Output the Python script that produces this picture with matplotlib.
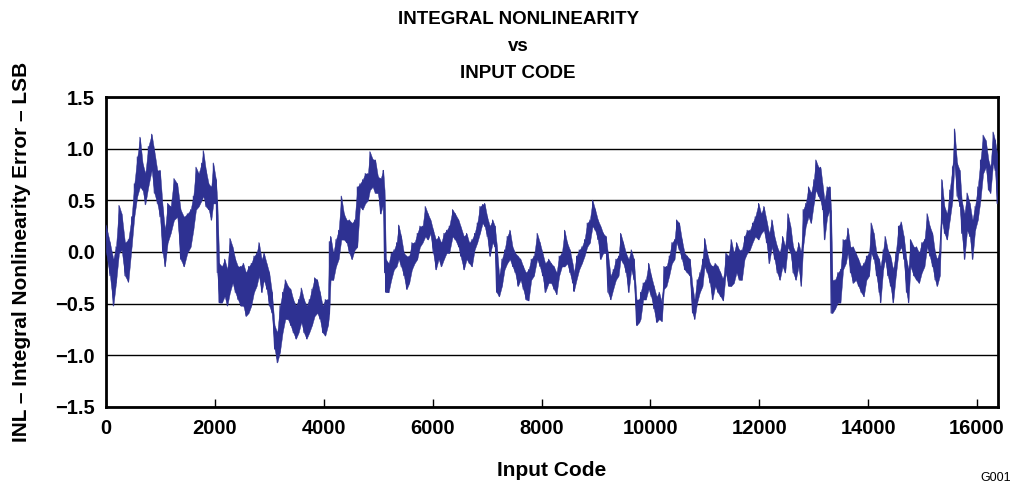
import matplotlib
matplotlib.use("Agg")
import matplotlib.pyplot as plt
import numpy as np

plt.rcParams['font.family'] = ['Liberation Sans', 'DejaVu Sans']
plt.rcParams['font.weight'] = 'bold'

# INL envelope: input code, lowest and highest INL (LSB)
code = [0, 73, 135, 184, 239, 288, 349, 410, 471, 520, 575, 624, 673, 722, 777,
        839, 888, 943, 992, 1041, 1083, 1133, 1188, 1249, 1310, 1371, 1432, 1494,
        1555, 1604, 1653, 1702, 1757, 1787, 1836, 1886, 1934, 1971, 2020, 2044,
        2081, 2130, 2179, 2228, 2277, 2326, 2375, 2424, 2473, 2522, 2571, 2620,
        2669, 2718, 2767, 2810, 2859, 2901, 2951, 2999, 3048, 3097, 3146, 3195,
        3244, 3293, 3342, 3391, 3440, 3489, 3538, 3587, 3636, 3685, 3734, 3783,
        3832, 3881, 3930, 3979, 4028, 4077, 4102, 4126, 4175, 4224, 4273, 4322,
        4371, 4420, 4469, 4517, 4567, 4616, 4664, 4714, 4762, 4811, 4848, 4897,
        4946, 4995, 5044, 5093, 5117, 5142, 5191, 5239, 5289, 5338, 5375, 5422,
        5472, 5522, 5570, 5619, 5668, 5717, 5766, 5815, 5864, 5913, 5962, 6011,
        6060, 6109, 6158, 6207, 6256, 6305, 6366, 6414, 6476, 6513, 6574, 6623,
        6672, 6721, 6770, 6819, 6868, 6917, 6954, 7002, 7051, 7101, 7143, 7174,
        7222, 7272, 7321, 7369, 7419, 7468, 7516, 7566, 7615, 7664, 7713, 7762,
        7811, 7860, 7920, 7970, 8019, 8067, 8130, 8177, 8227, 8276, 8324, 8374,
        8423, 8471, 8521, 8570, 8594, 8643, 8692, 8741, 8790, 8839, 8888, 8937,
        8986, 9035, 9084, 9133, 9182, 9219, 9268, 9317, 9366, 9415, 9452, 9501,
        9550, 9599, 9648, 9697, 9746, 9795, 9819, 9867, 9916, 9966, 10014, 10063,
        10113, 10161, 10210, 10247, 10296, 10345, 10394, 10443, 10480, 10529,
        10578, 10627, 10675, 10724, 10773, 10810, 10858, 10908, 10957, 10994,
        11043, 11092, 11140, 11189, 11238, 11287, 11336, 11385, 11435, 11483,
        11532, 11581, 11630, 11680, 11729, 11777, 11826, 11875, 11924, 11986,
        12034, 12083, 12132, 12181, 12230, 12279, 12328, 12377, 12426, 12475,
        12524, 12573, 12621, 12671, 12720, 12768, 12805, 12853, 12903, 12951,
        13001, 13038, 13087, 13124, 13161, 13197, 13246, 13295, 13319, 13344,
        13392, 13442, 13491, 13539, 13589, 13625, 13674, 13723, 13772, 13821,
        13870, 13919, 13968, 14017, 14054, 14103, 14152, 14201, 14226, 14275,
        14311, 14360, 14409, 14458, 14507, 14556, 14605, 14654, 14703, 14740,
        14776, 14837, 14886, 14935, 14984, 15034, 15082, 15131, 15180, 15229,
        15266, 15315, 15351, 15401, 15449, 15498, 15548, 15584, 15633, 15682,
        15718, 15768, 15816, 15866, 15915, 15963, 16013, 16062, 16111, 16160,
        16209, 16246, 16294, 16331, 16368]

inl_min = [0.0, -0.23, -0.52, -0.30, -0.01, 0.02, -0.23, -0.29, 0.05, 0.34, 0.54,
           0.63, 0.60, 0.46, 0.63, 0.79, 0.57, 0.47, 0.34, -0.01, -0.14, 0.09,
           0.18, 0.31, 0.34, -0.07, -0.14, -0.01, 0.05, 0.21, 0.41, 0.44, 0.50,
           0.54, 0.44, 0.41, 0.31, 0.47, 0.47, -0.20, -0.49, -0.49, -0.43, -0.52,
           -0.39, -0.30, -0.39, -0.46, -0.52, -0.52, -0.62, -0.59, -0.52, -0.39,
           -0.33, -0.23, -0.39, -0.27, -0.36, -0.52, -0.59, -0.94, -1.07, -0.97,
           -0.78, -0.65, -0.65, -0.71, -0.78, -0.84, -0.78, -0.68, -0.78, -0.84,
           -0.78, -0.71, -0.62, -0.59, -0.65, -0.78, -0.81, -0.71, -0.60, -0.27,
           -0.27, -0.14, -0.07, 0.12, 0.12, 0.09, -0.01, -0.07, 0.02, 0.05, 0.44,
           0.41, 0.47, 0.50, 0.60, 0.63, 0.57, 0.57, 0.37, 0.47, -0.20, -0.39,
           -0.39, -0.27, -0.17, -0.14, -0.07, -0.14, -0.23, -0.36, -0.30, -0.17,
           -0.11, -0.07, 0.05, 0.09, 0.15, 0.12, 0.18, -0.01, -0.17, -0.07, -0.14,
           -0.07, -0.01, -0.01, 0.15, 0.12, 0.05, -0.04, -0.17, -0.07, -0.11,
           -0.14, 0.02, 0.09, 0.18, 0.28, 0.25, 0.15, -0.04, 0.09, 0.05, -0.39,
           -0.43, -0.33, -0.17, -0.11, -0.07, -0.14, -0.20, -0.33, -0.27, -0.36,
           -0.46, -0.47, -0.27, -0.23, -0.07, -0.14, -0.23, -0.39, -0.30, -0.30,
           -0.36, -0.41, -0.23, -0.14, -0.14, -0.11, -0.20, -0.30, -0.38, -0.27,
           -0.17, -0.11, -0.04, 0.05, 0.09, 0.25, 0.21, 0.12, -0.07, -0.01, -0.01,
           -0.39, -0.46, -0.36, -0.27, -0.23, -0.07, -0.11, -0.20, -0.39, -0.17,
           -0.27, -0.71, -0.68, -0.65, -0.46, -0.46, -0.36, -0.43, -0.55, -0.68,
           -0.65, -0.67, -0.36, -0.33, -0.23, -0.11, -0.07, 0.09, 0.02, -0.07,
           -0.17, -0.20, -0.23, -0.59, -0.65, -0.49, -0.39, -0.33, -0.14, -0.20,
           -0.30, -0.46, -0.33, -0.39, -0.43, -0.47, -0.20, -0.33, -0.33, -0.30,
           -0.20, -0.27, -0.27, -0.07, -0.01, 0.02, 0.09, 0.15, 0.12, 0.18, 0.21,
           0.09, -0.11, 0.05, -0.07, -0.20, -0.27, -0.14, -0.20, 0.05, -0.01,
           -0.20, -0.27, -0.14, -0.33, 0.05, 0.25, 0.34, 0.28, 0.47, 0.60, 0.54,
           0.50, 0.41, 0.12, 0.34, 0.41, -0.59, -0.59, -0.55, -0.49, -0.49, -0.17,
           -0.11, -0.01, -0.20, -0.30, -0.27, -0.33, -0.39, -0.43, -0.27, -0.23,
           -0.01, -0.07, -0.23, -0.39, -0.49, -0.17, -0.07, -0.23, -0.33, -0.49,
           -0.23, -0.01, 0.05, -0.07, -0.39, -0.49, -0.14, -0.23, -0.27, -0.30,
           -0.20, -0.14, 0.05, -0.04, -0.14, -0.27, -0.33, -0.23, 0.31, 0.18,
           0.12, 0.31, 0.50, 0.86, 0.54, 0.44, 0.18, -0.07, 0.21, 0.15, -0.07,
           0.21, 0.31, 0.50, 0.76, 0.82, 0.60, 0.57, 0.86, 0.79, 0.47]

inl_max = [0.26, 0.09, -0.07, 0.05, 0.45, 0.37, 0.09, 0.12, 0.34, 0.66, 0.92,
           1.11, 0.86, 0.76, 1.02, 1.14, 0.98, 0.79, 0.79, 0.44, 0.21, 0.47, 0.44,
           0.71, 0.66, 0.41, 0.34, 0.37, 0.41, 0.54, 0.82, 0.76, 0.86, 0.98, 0.79,
           0.66, 0.63, 0.86, 0.70, 0.50, -0.11, -0.14, -0.07, -0.17, 0.13, 0.05,
           -0.07, -0.14, -0.14, -0.11, -0.20, -0.14, -0.11, -0.04, -0.01, 0.09,
           -0.07, -0.01, -0.11, -0.20, -0.39, -0.71, -0.78, -0.52, -0.39, -0.27,
           -0.33, -0.36, -0.46, -0.52, -0.46, -0.35, -0.46, -0.52, -0.46, -0.36,
           -0.25, -0.27, -0.39, -0.52, -0.46, -0.46, 0.10, 0.15, -0.01, 0.12, 0.21,
           0.54, 0.37, 0.31, 0.31, 0.28, 0.31, 0.63, 0.66, 0.70, 0.76, 0.76, 0.97,
           0.90, 0.89, 0.73, 0.71, 0.79, 0.60, -0.07, -0.11, -0.01, 0.02, 0.09,
           0.26, 0.15, -0.01, -0.04, -0.04, 0.09, 0.09, 0.18, 0.25, 0.25, 0.44,
           0.37, 0.31, 0.21, 0.12, 0.15, 0.09, 0.18, 0.21, 0.25, 0.41, 0.37, 0.31,
           0.25, 0.15, 0.18, 0.09, 0.12, 0.18, 0.28, 0.44, 0.46, 0.47, 0.34, 0.25,
           0.31, 0.25, 0.09, -0.23, -0.07, 0.02, 0.15, 0.21, 0.05, -0.01, -0.04,
           -0.07, -0.14, -0.20, -0.17, -0.07, -0.04, 0.18, 0.09, -0.01, -0.11,
           -0.07, -0.11, -0.14, -0.20, -0.04, -0.01, 0.21, 0.09, 0.02, -0.11,
           -0.20, -0.04, 0.02, 0.05, 0.12, 0.28, 0.31, 0.50, 0.41, 0.31, 0.25,
           0.18, 0.15, -0.01, -0.23, -0.17, -0.07, -0.04, 0.18, 0.09, -0.01, -0.07,
           0.02, -0.07, -0.46, -0.46, -0.39, -0.30, -0.27, -0.11, -0.23, -0.33,
           -0.43, -0.39, -0.49, -0.14, -0.14, -0.04, 0.09, 0.12, 0.31, 0.28, 0.12,
           -0.01, -0.04, -0.07, -0.33, -0.46, -0.27, -0.20, -0.07, 0.13, -0.01,
           -0.11, -0.14, -0.11, -0.14, -0.20, -0.27, -0.01, -0.04, 0.12, -0.01,
           0.09, 0.02, 0.02, 0.15, 0.21, 0.21, 0.28, 0.34, 0.47, 0.37, 0.44, 0.31,
           0.18, 0.31, 0.15, 0.05, -0.01, 0.15, 0.05, 0.37, 0.25, 0.05, -0.01,
           0.09, -0.01, 0.41, 0.47, 0.63, 0.57, 0.70, 0.89, 0.82, 0.82, 0.66, 0.50,
           0.63, 0.63, 0.40, -0.27, -0.27, -0.20, -0.17, 0.12, 0.12, 0.23, 0.05,
           0.05, -0.01, -0.07, -0.14, -0.11, -0.04, -0.01, 0.28, 0.18, -0.01,
           -0.07, -0.14, 0.02, 0.15, 0.02, -0.04, -0.17, -0.01, 0.25, 0.29, 0.15,
           -0.07, -0.17, 0.12, 0.05, 0.05, -0.01, 0.09, 0.12, 0.37, 0.25, 0.18,
           -0.01, -0.07, 0.02, 0.70, 0.44, 0.37, 0.60, 0.82, 1.19, 0.86, 0.79,
           0.50, 0.37, 0.57, 0.47, 0.31, 0.44, 0.63, 0.89, 1.13, 1.08, 0.89, 0.82,
           1.16, 1.08, 0.95]

yticks = [-1.5, -1.0, -0.5, 0.0, 0.5, 1.0, 1.5]
xticks = [0, 2000, 4000, 6000, 8000, 10000, 12000, 14000, 16000]

trace = '#2e3192'

fig = plt.figure(figsize=(10.13, 4.87), dpi=100)
ax = fig.add_axes([0.1046, 0.1643, 0.8805, 0.6365])

x = np.array(code)
lo = np.array(inl_min)
hi = np.array(inl_max)
ax.fill_between(x, lo, hi, color=trace, linewidth=0.3, zorder=3)
zig_x = np.repeat(x, 2)
zig_y = np.column_stack([lo, hi]).ravel()
ax.plot(zig_x, zig_y, color=trace, linewidth=0.7, zorder=3)

ax.set_xlim(0, 16383)
ax.set_ylim(-1.5, 1.5)
ax.set_yticks(yticks)
ax.set_yticklabels(['\u22121.5', '\u22121.0', '\u22120.5', '0.0', '0.5', '1.0', '1.5'])
ax.set_xticks(xticks)
ax.yaxis.grid(True, color='black', linewidth=1.0)
ax.set_axisbelow(True)
ax.tick_params(axis='x', direction='in', length=6, width=1, pad=9, labelsize=14.5)
ax.tick_params(axis='y', length=0, pad=8, labelsize=14.5)
for s in ax.spines.values():
    s.set_linewidth(2)

ax.set_xlabel('Input Code', fontsize=15, fontweight='bold', labelpad=16)
ax.set_ylabel('INL \u2013 Integral Nonlinearity Error \u2013 LSB', fontsize=15,
              fontweight='bold', labelpad=17)
fig.text(0.5115, 0.977, 'INTEGRAL NONLINEARITY\nvs\nINPUT CODE', ha='center',
         va='top', fontsize=13.5, fontweight='bold', linespacing=1.75)
fig.text(0.998, 0.006, 'G001', ha='right', va='bottom', fontsize=9,
         fontweight='normal')

fig.savefig('out.png', dpi=100)
